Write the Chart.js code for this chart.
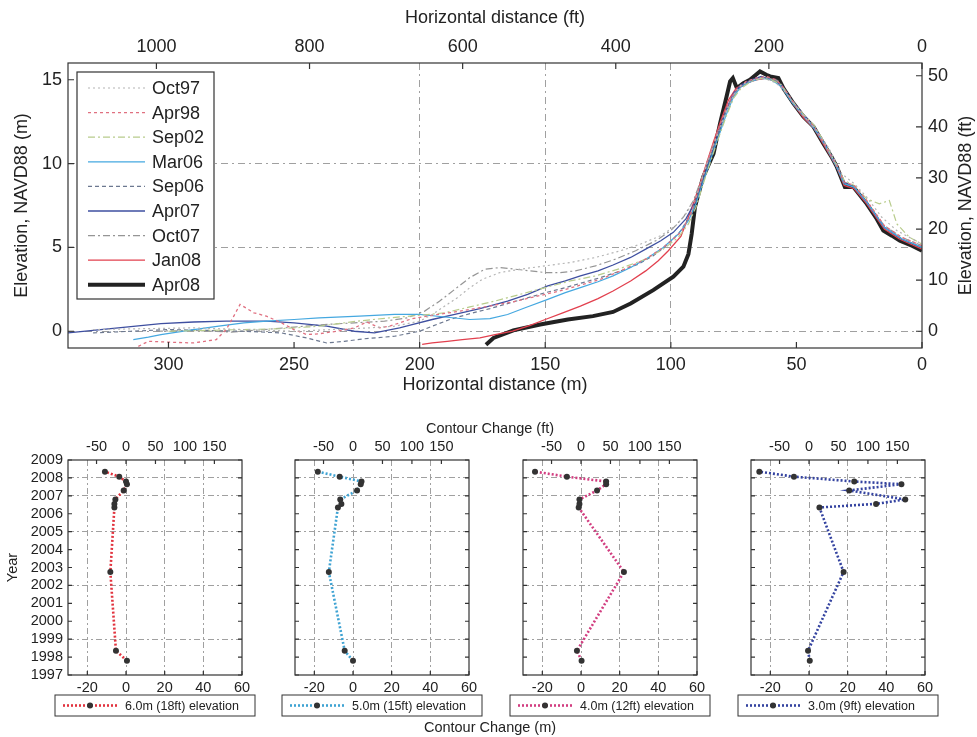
<!DOCTYPE html>
<html>
<head>
<meta charset="utf-8">
<script src="https://cdn.jsdelivr.net/npm/chart.js@4.4.1/dist/chart.umd.min.js"></script>
<style>
  body { margin: 0; background: #fff; width: 977px; height: 737px; position: relative; overflow: hidden;
         font-family: "Liberation Sans", Arial, sans-serif; color: #222; }
  canvas { position: absolute; }
  .lbl { position: absolute; font-size: 14.5px; white-space: nowrap; transform: translate(-50%, -50%); }
</style>
</head>
<body>
<canvas id="profile" width="977" height="400" style="left:0;top:0"></canvas>
<canvas id="p6" width="262" height="320" style="left:0;top:410px"></canvas>
<canvas id="p5" width="214" height="320" style="left:275px;top:410px"></canvas>
<canvas id="p4" width="214" height="320" style="left:503px;top:410px"></canvas>
<canvas id="p3" width="214" height="320" style="left:731px;top:410px"></canvas>
<div class="lbl" style="left:490px;top:428px">Contour Change (ft)</div>
<div class="lbl" style="left:490px;top:727px">Contour Change (m)</div>
<script>
const M2FT = 3.28084;

// ---- beach profiles: [horizontal distance (m), elevation (m)]
const oct97 = [[330,0.1],[310,0.15],[290,0.2],[270,0.1],[250,0.0],[235,0.1],[220,0.2],[210,0.3],[200,0.6],[195,1.0],[190,1.5],[185,2.0],[180,2.6],[175,3.1],[168,3.5],[160,3.7],[150,3.9],[140,4.1],[130,4.4],[120,4.8],[112,5.2],[104,5.7],[98,6.3],[94,7.0],[90,8.0],[86,9.8],[82,11.5],[78,13.1],[75,14.1],[72,14.7],[67,15.0],[63,15.1],[58,14.8],[54,14.2],[48,13.0],[42,12.0],[37,10.9],[32,9.4],[27,8.8],[22,8.0],[16,6.8],[10,6.0],[5,5.6],[0,5.2]];
const apr98 = [[312,-0.9],[308,-0.6],[300,-0.65],[290,-0.7],[281,-0.5],[277,0.1],[274,0.9],[271.5,1.6],[266,1.1],[261,0.9],[255,0.5],[250,0.1],[245,-0.2],[240,-0.15],[233,0.0],[226,0.2],[221,0.55],[216,0.2],[212,0.3],[208,0.5],[203,0.75],[195,0.95],[186,1.15],[176,1.4],[163,1.75],[150,2.2],[143,2.45],[136,2.75],[128,3.1],[120,3.6],[110,4.3],[103,5.0],[96,5.9],[92,7.0],[89,8.4],[86,9.9],[83,11.2],[80,12.5],[77,13.6],[74,14.4],[70,14.9],[66,15.1],[62,15.2],[58,15.0],[55,14.5],[51,13.6],[47,12.8],[43,12.2],[39,11.2],[34,9.9],[31,8.9],[27,8.7],[22,7.8],[15,6.3],[8,5.6],[0,5.1]];
const sep02 = [[300,0.0],[285,0.05],[270,0.1],[255,0.15],[240,0.3],[225,0.6],[212,0.8],[200,0.95],[190,1.1],[180,1.45],[170,1.8],[160,2.2],[150,2.6],[140,3.0],[130,3.3],[120,3.75],[110,4.3],[103,4.9],[97,5.6],[93,6.4],[90,7.4],[86,9.3],[82,11.1],[78,12.8],[75,13.9],[72,14.5],[68,14.9],[64,15.1],[60,15.0],[56,14.7],[52,13.8],[47,12.9],[43,12.3],[39,11.3],[34,9.9],[31,9.0],[27,8.7],[22,7.9],[17,7.6],[13,7.8],[10,6.4],[5,5.6],[0,5.2]];
const mar06 = [[314,-0.5],[308,-0.35],[303,-0.2],[292,0.05],[280,0.3],[270,0.5],[261,0.6],[250,0.7],[240,0.8],[224,0.9],[210,1.0],[200,1.0],[190,0.85],[180,0.7],[172,0.75],[165,1.0],[158,1.4],[149,1.9],[142,2.3],[136,2.6],[129,2.95],[123,3.3],[116,3.8],[110,4.3],[103,5.0],[97,5.8],[93,6.6],[90,7.6],[86,9.4],[82,11.2],[78,12.9],[75,14.0],[72,14.6],[68,14.9],[64,15.1],[60,15.0],[56,14.6],[52,13.7],[47,12.8],[43,12.1],[39,11.2],[34,9.8],[31,8.8],[27,8.6],[22,7.7],[15,6.2],[8,5.5],[0,5.0]];
const sep06 = [[330,-0.1],[315,0.0],[300,0.1],[285,0.05],[270,0.0],[255,-0.1],[245,-0.4],[237,-0.7],[230,-0.6],[222,-0.45],[210,-0.3],[200,0.0],[195,0.3],[188,0.7],[180,1.05],[172,1.35],[165,1.65],[158,1.95],[150,2.3],[142,2.6],[135,2.9],[128,3.2],[120,3.6],[113,4.0],[107,4.5],[101,5.2],[96,6.0],[92,7.0],[89,8.3],[86,9.7],[83,11.0],[80,12.3],[77,13.5],[74,14.3],[70,14.8],[66,15.0],[62,15.1],[58,14.9],[55,14.4],[51,13.5],[47,12.8],[43,12.1],[39,11.2],[34,9.8],[31,8.8],[27,8.6],[22,7.7],[15,6.2],[8,5.5],[0,5.0]];
const apr07 = [[340,-0.1],[330,0.05],[320,0.2],[303,0.45],[290,0.55],[277,0.6],[261,0.6],[250,0.5],[237,0.3],[226,0.0],[218,-0.1],[208,0.2],[203,0.4],[195,0.7],[186,1.0],[176,1.35],[165,1.8],[157,2.2],[149,2.7],[142,3.0],[136,3.3],[129,3.6],[123,3.95],[116,4.4],[110,4.9],[104,5.4],[99,5.9],[94,6.7],[90,7.8],[86,9.6],[82,11.4],[78,13.2],[75,14.2],[72,14.7],[68,15.0],[64,15.2],[60,15.0],[56,14.7],[52,13.8],[47,12.9],[43,12.2],[39,11.3],[34,9.9],[31,8.9],[27,8.6],[22,7.7],[15,6.2],[8,5.5],[0,5.0]];
const oct07 = [[305,0.0],[290,0.05],[275,-0.05],[262,0.1],[250,0.25],[238,0.4],[226,0.5],[214,0.6],[205,0.8],[198,1.2],[192,1.8],[186,2.5],[180,3.2],[174,3.7],[168,3.8],[162,3.7],[156,3.6],[150,3.5],[144,3.5],[138,3.6],[130,3.9],[122,4.3],[114,4.8],[106,5.4],[100,6.0],[95,6.8],[91,7.8],[88,9.0],[85,10.3],[82,11.6],[79,12.8],[76,13.8],[73,14.5],[69,14.9],[65,15.1],[61,15.1],[57,14.9],[54,14.3],[50,13.4],[46,12.7],[42,12.0],[38,11.0],[34,9.9],[31,8.9],[27,8.6],[22,7.7],[15,6.3],[8,5.6],[0,5.1]];
const jan08 = [[199,-0.78],[195,-0.7],[189,-0.6],[183,-0.5],[176,-0.4],[170,-0.2],[163,0.0],[156,0.35],[150,0.7],[143,1.1],[136,1.5],[129,1.95],[123,2.4],[116,3.0],[110,3.6],[105,4.2],[101,4.8],[96,5.65],[92.4,7.05],[89,8.5],[86,9.9],[83,11.3],[80,12.6],[77,13.8],[74,14.5],[70,14.8],[66,15.0],[62,15.1],[58,14.9],[55,14.4],[51,13.5],[47,12.7],[43,12.1],[39,11.1],[34,9.8],[31,8.7],[27,8.5],[22,7.6],[15,6.1],[9,5.5],[0,4.9]];
const apr08 = [[173.6,-0.8],[170.6,-0.4],[162.7,0.05],[152,0.4],[141,0.7],[131,0.9],[123,1.15],[116,1.65],[107,2.45],[99,3.25],[95,3.85],[93,4.6],[91.7,5.8],[90.4,7.4],[89.5,7.9],[87.1,9.2],[83,10.6],[80.4,12.4],[77.8,14.0],[76.4,14.9],[75.3,15.1],[73.7,14.5],[71.1,14.8],[68.5,15.0],[64.5,15.5],[62,15.3],[60.5,15.2],[57.2,15.1],[55.2,14.5],[51.2,13.6],[47.2,12.8],[43.2,12.2],[39.3,11.2],[36,10.4],[33.9,9.8],[30.7,8.6],[27.3,8.6],[22,7.6],[18,6.7],[15.4,6.0],[12,5.7],[8.8,5.4],[4,5.1],[0,4.8]];

const surveyLabels = ['Oct97', 'Apr98', 'Sep02', 'Mar06', 'Sep06', 'Apr07', 'Oct07', 'Jan08', 'Apr08'];
const profiles = [oct97, apr98, sep02, mar06, sep06, apr07, oct07, jan08, apr08];
const profileColors = ['#b4b4b4', '#e07080', '#b8cc8c', '#45a8e0', '#6c7890', '#3e4fa0', '#959595', '#e2404e', '#222222'];
const profileDash = [[2,3], [3,3], [7,3,2,3], [], [4,3], [], [7,3,2,3], [], []];
const profileWidth = [1.2, 1.3, 1.2, 1.2, 1.2, 1.3, 1.2, 1.3, 4];

const distTicks = [0, 50, 100, 150, 200, 250, 300];
const distFtTicks = [0, 200, 400, 600, 800, 1000];
const elevTicks = [0, 5, 10, 15];
const elevFtTicks = [0, 10, 20, 30, 40, 50];

// ---- contour change panels
const surveyYears = [1997.8, 1998.35, 2002.75, 2006.35, 2006.55, 2006.8, 2007.3, 2007.65, 2007.8, 2008.07, 2008.35];
const change6m = [0.5, -5.2, -8.1, -6.0, -6.0, -5.5, -1.2, 0.5, 0.0, -3.5, -10.9];
const change5m = [0.0, -4.3, -12.5, -7.8, -6.0, -6.6, 2.1, 4.0, 4.4, -6.9, -18.2];
const change4m = [0.3, -2.1, 22.2, -1.2, -0.8, -0.8, 8.3, 13.0, 13.0, -7.3, -23.8];
const change3m = [0.4, -0.5, 17.9, 5.4, 34.7, 49.8, 20.8, 47.8, 23.4, -7.8, -25.7];
const yearTicks = [1997, 1998, 1999, 2000, 2001, 2002, 2003, 2004, 2005, 2006, 2007, 2008, 2009];
const yearGrid = [1999, 2002, 2005, 2007, 2008];
const changeTicks = [-20, 0, 20, 40, 60];
const changeFtTicks = [-50, 0, 50, 100, 150];

Chart.defaults.font.family = '"Liberation Sans", Arial, sans-serif';
Chart.defaults.color = '#222';

const gridCol = '#a0a0a0';
const gridDash = [7, 4, 2, 4];
const setTicks = vals => axis => { axis.ticks = vals.map(v => ({ value: v })); };
const plain = v => String(v);

// box round the plot and short ticks pointing inwards
const frame = {
  id: 'frame',
  afterDatasetsDraw(chart, args, opts) {
    const { ctx, chartArea: a } = chart;
    const len = opts.len || 6;
    ctx.save();
    ctx.strokeStyle = '#333';
    ctx.lineWidth = 1.2;
    ctx.setLineDash([]);
    ctx.strokeRect(a.left, a.top, a.right - a.left, a.bottom - a.top);
    ctx.beginPath();
    Object.values(chart.scales).forEach(s => {
      s.ticks.forEach(t => {
        const p = s.getPixelForValue(t.value);
        if (s.position === 'bottom') { ctx.moveTo(p, a.bottom); ctx.lineTo(p, a.bottom - len); }
        if (s.position === 'top') { ctx.moveTo(p, a.top); ctx.lineTo(p, a.top + len); }
        if (s.position === 'left') {
          ctx.moveTo(a.left, p); ctx.lineTo(a.left + len, p);
          if (opts.mirrorY) { ctx.moveTo(a.right, p); ctx.lineTo(a.right - len, p); }
        }
        if (s.position === 'right') { ctx.moveTo(a.right, p); ctx.lineTo(a.right - len, p); }
      });
    });
    ctx.stroke();
    ctx.restore();
  }
};

const profileLegend = {
  id: 'profileLegend',
  afterDatasetsDraw(chart) {
    const ctx = chart.ctx;
    const a = chart.chartArea;
    const x0 = a.left + 9, y0 = a.top + 9, w = 137, h = 227;
    ctx.save();
    ctx.fillStyle = '#fff';
    ctx.fillRect(x0, y0, w, h);
    ctx.strokeStyle = '#333';
    ctx.lineWidth = 1.2;
    ctx.strokeRect(x0, y0, w, h);
    ctx.font = '18px "Liberation Sans", Arial, sans-serif';
    ctx.textBaseline = 'middle';
    chart.data.datasets.forEach((ds, i) => {
      const y = y0 + 16 + i * 24.6;
      ctx.beginPath();
      ctx.setLineDash(ds.borderDash);
      ctx.strokeStyle = ds.borderColor;
      ctx.lineWidth = ds.borderWidth;
      ctx.moveTo(x0 + 11, y);
      ctx.lineTo(x0 + 68, y);
      ctx.stroke();
      ctx.setLineDash([]);
      ctx.fillStyle = '#222';
      ctx.fillText(ds.label, x0 + 75, y + 1);
    });
    ctx.restore();
  }
};

const rightTitle = {
  id: 'rightTitle',
  afterDraw(chart, args, opts) {
    const { ctx, chartArea: a } = chart;
    ctx.save();
    ctx.translate(chart.width - 11, (a.top + a.bottom) / 2);
    ctx.rotate(-Math.PI / 2);
    ctx.font = '18px "Liberation Sans", Arial, sans-serif';
    ctx.fillStyle = '#222';
    ctx.textAlign = 'center';
    ctx.textBaseline = 'middle';
    ctx.fillText(opts.text, 0, 0);
    ctx.restore();
  }
};

const tickFont = { size: 18 };

new Chart(document.getElementById('profile'), {
  type: 'scatter',
  data: {
    datasets: profiles.map((p, i) => ({
      label: surveyLabels[i],
      data: p.map(([x, y]) => ({ x, y })),
      showLine: true,
      borderColor: profileColors[i],
      borderWidth: profileWidth[i],
      borderDash: profileDash[i],
      pointRadius: 0,
      tension: 0
    }))
  },
  options: {
    responsive: false,
    animation: false,
    layout: { padding: 0 },
    plugins: {
      legend: { display: false },
      tooltip: { enabled: false },
      frame: { len: 6 },
      rightTitle: { text: 'Elevation, NAVD88 (ft)' }
    },
    scales: {
      x: {
        type: 'linear', position: 'bottom', min: 0, max: 340, reverse: true,
        afterBuildTicks: setTicks(distTicks),
        afterFit: s => { s.height = 52; },
        grid: { drawTicks: false, color: c => [100, 150, 200].includes(c.tick.value) ? gridCol : 'transparent' },
        border: { display: false, dash: gridDash },
        ticks: { font: tickFont, padding: 6, maxRotation: 0, autoSkip: false, callback: plain },
        title: { display: true, text: 'Horizontal distance (m)', font: { size: 18 }, padding: { top: 0, bottom: 4 } }
      },
      x2: {
        type: 'linear', position: 'top', min: 0, max: 340 * M2FT, reverse: true,
        afterBuildTicks: setTicks(distFtTicks),
        afterFit: s => { s.height = 63; },
        grid: { display: false, drawTicks: false },
        border: { display: false },
        ticks: { font: tickFont, padding: 5, maxRotation: 0, autoSkip: false, callback: plain },
        title: { display: true, text: 'Horizontal distance (ft)', font: { size: 18 }, padding: { top: 7, bottom: 0 } }
      },
      y: {
        type: 'linear', position: 'left', min: -1, max: 16,
        afterBuildTicks: setTicks(elevTicks),
        afterFit: s => { s.width = 68; },
        grid: { drawTicks: false, color: c => [0, 5, 10].includes(c.tick.value) ? gridCol : 'transparent' },
        border: { display: false, dash: gridDash },
        ticks: { font: tickFont, padding: 6, autoSkip: false, callback: plain },
        title: { display: true, text: 'Elevation, NAVD88 (m)', font: { size: 18 }, padding: { top: 11, bottom: 0 } }
      },
      y2: {
        type: 'linear', position: 'right', min: -1 * M2FT, max: 16 * M2FT,
        afterBuildTicks: setTicks(elevFtTicks),
        afterFit: s => { s.width = 55; },
        grid: { display: false, drawTicks: false },
        border: { display: false },
        ticks: { font: tickFont, padding: 6, autoSkip: false, callback: plain }
      }
    }
  },
  plugins: [frame, profileLegend, rightTitle]
});

// legend box under each small panel
const panelLegend = {
  id: 'panelLegend',
  afterDraw(chart) {
    const { ctx, chartArea: a } = chart;
    const ds = chart.data.datasets[0];
    const w = 200, h = 21;
    const bx = (a.left + a.right) / 2 - w / 2, by = a.bottom + 20;
    ctx.save();
    ctx.fillStyle = '#fff';
    ctx.fillRect(bx, by, w, h);
    ctx.strokeStyle = '#333';
    ctx.lineWidth = 1;
    ctx.strokeRect(bx, by, w, h);
    const cy = by + h / 2;
    ctx.beginPath();
    ctx.setLineDash(ds.borderDash);
    ctx.strokeStyle = ds.borderColor;
    ctx.lineWidth = ds.borderWidth;
    ctx.moveTo(bx + 8, cy);
    ctx.lineTo(bx + 62, cy);
    ctx.stroke();
    ctx.setLineDash([]);
    ctx.fillStyle = '#333';
    ctx.beginPath();
    ctx.arc(bx + 35, cy, 3, 0, Math.PI * 2);
    ctx.fill();
    ctx.fillStyle = '#222';
    ctx.font = '12.5px "Liberation Sans", Arial, sans-serif';
    ctx.textBaseline = 'middle';
    ctx.fillText(ds.label, bx + 70, cy + 1);
    ctx.restore();
  }
};

function contourPanel(id, changes, color, label, first) {
  new Chart(document.getElementById(id), {
    type: 'scatter',
    data: {
      datasets: [{
        label: label,
        data: changes.map((c, i) => ({ x: c, y: surveyYears[i] })),
        showLine: true,
        borderColor: color,
        borderWidth: 2.6,
        borderDash: [2, 2],
        pointRadius: 3,
        pointBackgroundColor: '#333',
        pointBorderColor: '#333',
        pointBorderWidth: 0
      }]
    },
    options: {
      responsive: false,
      animation: false,
      layout: { padding: { right: 20 } },
      plugins: {
        legend: { display: false },
        tooltip: { enabled: false },
        frame: { len: 4, mirrorY: true }
      },
      scales: {
        x: {
          type: 'linear', position: 'bottom', min: -30, max: 60,
          afterBuildTicks: setTicks(changeTicks),
          afterFit: s => { s.height = 55; },
          grid: { drawTicks: false, color: c => c.tick.value < 60 ? gridCol : 'transparent' },
          border: { display: false, dash: [6, 3, 2, 3] },
          ticks: { font: { size: 14.5 }, padding: 4, maxRotation: 0, autoSkip: false, callback: plain }
        },
        x2: {
          type: 'linear', position: 'top', min: -30 * M2FT, max: 60 * M2FT,
          afterBuildTicks: setTicks(changeFtTicks),
          afterFit: s => { s.height = 50; },
          grid: { display: false, drawTicks: false },
          border: { display: false },
          ticks: { font: { size: 14.5 }, padding: 4, maxRotation: 0, autoSkip: false, callback: plain }
        },
        y: {
          type: 'linear', position: 'left', min: 1997, max: 2009,
          afterBuildTicks: setTicks(yearTicks),
          afterFit: s => { s.width = first ? 68 : 20; },
          grid: { drawTicks: false, color: c => yearGrid.includes(c.tick.value) ? gridCol : 'transparent' },
          border: { display: false, dash: [6, 3, 2, 3] },
          ticks: { display: first, font: { size: 14.5 }, padding: 5, autoSkip: false, callback: plain },
          title: { display: first, text: 'Year', font: { size: 14.5 }, padding: { top: 4, bottom: 0 } }
        }
      }
    },
    plugins: [frame, panelLegend]
  });
}

contourPanel('p6', change6m, '#e2343f', '6.0m (18ft) elevation', true);
contourPanel('p5', change5m, '#3fa3d3', '5.0m (15ft) elevation', false);
contourPanel('p4', change4m, '#d23e80', '4.0m (12ft) elevation', false);
contourPanel('p3', change3m, '#3443a0', '3.0m (9ft) elevation', false);
</script>
</body>
</html>
